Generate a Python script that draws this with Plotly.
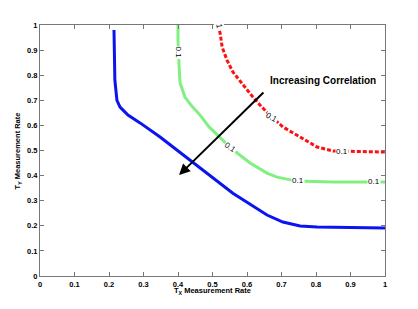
import plotly.graph_objects as go

# Blue curve (highest correlation)
blue_x = [0.2145, 0.217, 0.223, 0.232, 0.255, 0.29, 0.348, 0.426, 0.464, 0.559, 0.658, 0.704, 0.754, 0.803, 1.0]
blue_y = [0.98, 0.78, 0.70, 0.673, 0.641, 0.61, 0.554, 0.47, 0.43, 0.33, 0.243, 0.215, 0.199, 0.195, 0.191]

# Green curve
green_x = [0.4, 0.4, 0.403, 0.406, 0.42, 0.44, 0.464, 0.49, 0.52, 0.56, 0.609, 0.658, 0.687, 0.745, 0.849, 1.0]
green_y = [1.0, 0.94, 0.84, 0.77, 0.713, 0.677, 0.641, 0.594, 0.554, 0.502, 0.45, 0.41, 0.394, 0.378, 0.375, 0.375]

# Red dotted curve
red_x = [0.516, 0.522, 0.528, 0.542, 0.559, 0.588, 0.617, 0.643, 0.672, 0.704, 0.754, 0.803, 0.849, 1.0]
red_y = [1.0, 0.968, 0.912, 0.86, 0.813, 0.761, 0.713, 0.673, 0.633, 0.594, 0.554, 0.514, 0.498, 0.494]

tick_vals = [0, 0.1, 0.2, 0.3, 0.4, 0.5, 0.6, 0.7, 0.8, 0.9, 1]
tick_text = ["0", "0.1", "0.2", "0.3", "0.4", "0.5", "0.6", "0.7", "0.8", "0.9", "1"]

# contour labels: (x, y, text, angle)
green_labels = [(0.4, 0.89, "0.1", 90), (0.551, 0.51, "0.1", 35), (0.748, 0.379, "0.1", 0), (0.968, 0.375, "0.1", 0)]
red_labels = [(0.52, 0.995, "1", 80), (0.672, 0.633, "0.1", 30), (0.875, 0.497, "0.1", 0)]

fig = go.Figure()
fig.add_trace(go.Scatter(x=green_x, y=green_y, mode="lines",
                         line=dict(color="#80f080", width=3), hoverinfo="skip"))
fig.add_trace(go.Scatter(x=red_x, y=red_y, mode="lines",
                         line=dict(color="#ff1010", width=3, dash="4px,2px"), hoverinfo="skip"))
fig.add_trace(go.Scatter(x=blue_x, y=blue_y, mode="lines",
                         line=dict(color="#0a14f0", width=3), hoverinfo="skip"))

font = "Liberation Sans"
for (x, y, t, a) in green_labels + red_labels:
    fig.add_annotation(x=x, y=y, text=t, showarrow=False, textangle=a,
                       bgcolor="white", borderpad=0,
                       font=dict(family=font, size=8, color="black"))

fig.add_annotation(x=0.403, y=0.402, ax=0.652, ay=0.737, xref="x", yref="y",
                   axref="x", ayref="y", text="", showarrow=True,
                   arrowhead=2, arrowsize=1.1, arrowwidth=2, arrowcolor="black")
fig.add_annotation(x=0.661, y=0.777, text="<b>Increasing Correlation</b>", showarrow=False,
                   xanchor="left", yanchor="middle", font=dict(family=font, size=10, color="black"))

fig.add_annotation(x=0.5, y=-0.06, xref="paper", yref="paper", xanchor="center", yanchor="middle",
                   text="<b>T<sub>X</sub> Measurement Rate</b>", showarrow=False,
                   font=dict(family=font, size=7.5, color="black"))
fig.add_annotation(x=-0.064, y=0.5, xref="paper", yref="paper", textangle=-90,
                   xanchor="center", yanchor="middle",
                   text="<b>T<sub>Y</sub> Measurement Rate</b>", showarrow=False,
                   font=dict(family=font, size=7.5, color="black"))

axis_common = dict(range=[0, 1], tickvals=tick_vals, ticktext=tick_text,
                   showline=True, linecolor="#777777", linewidth=1, mirror="ticks",
                   ticks="inside", ticklen=4, tickcolor="#777777", showgrid=False,
                   zeroline=False,
                   tickfont=dict(family=font, size=7.5, color="black", weight="bold"))

fig.update_layout(
    width=418, height=309,
    margin=dict(l=40, r=33, t=25, b=33),
    paper_bgcolor="white", plot_bgcolor="white",
    showlegend=False,
    xaxis=axis_common,
    yaxis=axis_common,
)
fig.update_xaxes(ticklabelstandoff=1)
fig.write_html("out.html", config={"displayModeBar": False},
               post_script="document.body.style.margin='0';document.body.style.overflow='hidden';")
